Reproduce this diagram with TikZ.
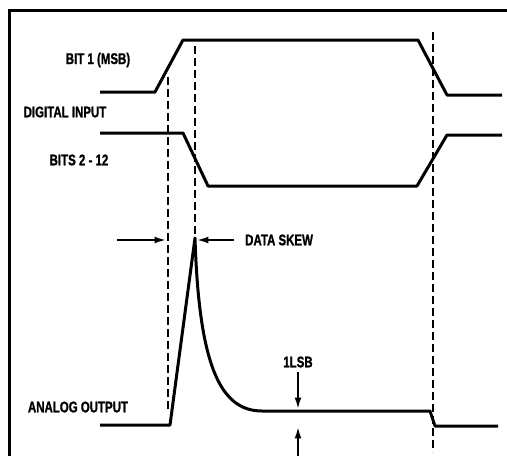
\documentclass[tikz,border=0pt]{standalone}
\usepackage{fontspec}
\newfontfamily\lblfont{Liberation Sans}[UprightFont=* Bold, FakeStretch=0.74, FakeBold=1.2]
\usetikzlibrary{arrows.meta}

\begin{document}
\begin{tikzpicture}[
    x=1pt, y=-1pt,
    every node/.style={font=\lblfont\fontsize{15.5}{17}\selectfont, inner sep=1pt},
    wave/.style={line width=3pt, line join=round},
    guide/.style={line width=2.2pt, dash pattern=on 8pt off 4pt},
    frame/.style={line width=3pt},
    arr/.style={-{Latex[length=4mm, width=2.4mm]}, line width=1.8pt},
]
\useasboundingbox (0,0) rectangle (507,456);

% frame (top and left only)
\draw[frame] (507,10) -- (9,10) -- (9,456);

% labels
\node (msb) at (98,60) {BIT 1 (MSB)};
\node (dig) at (65,112) {DIGITAL INPUT};
\node (bits) at (79,160) {BITS 2 - 12};
\node (ana) at (78,407) {ANALOG OUTPUT};
\node[anchor=west] (skew) at (244,240) {DATA SKEW};
\node (lsb) at (298,362) {1LSB};

% digital waveforms
\draw[wave] (100,92) -- (155,92) -- (183,40) -- (418,40) -- (447,95) -- (502,95);
\draw[wave] (100,133) -- (183,133) -- (208,186) -- (417,186) -- (447,135) -- (502,135);

% analog output
\draw[wave] (100,425) -- (170,425) -- (195,238)
    .. controls (199,365) and (220,411) .. (262,411) -- (430,411)
    -- (435,426) -- (498,426);

% guide lines
\draw[guide] (168,77) -- (168,410);
\draw[guide] (195,46) -- (195,236);
\draw[guide] (433,32) -- (433,452);

% data skew arrows
\coordinate (skewL) at (117,240);
\coordinate (skewLtip) at (166,240);
\coordinate (skewR) at (234,240);
\coordinate (skewRtip) at (197,240);
\draw[arr] (skewL) -- (skewLtip);
\draw[arr] (skewR) -- (skewRtip);

% 1LSB arrows
\coordinate (lsbtop) at (298,409);
\coordinate (lsbbot) at (298,456);
\coordinate (lsbbtip) at (298,427);
\draw[arr] (lsb.south) ++(0,3) -- (lsbtop);
\draw[arr] (lsbbot) -- (lsbbtip);

\end{tikzpicture}
\end{document}
